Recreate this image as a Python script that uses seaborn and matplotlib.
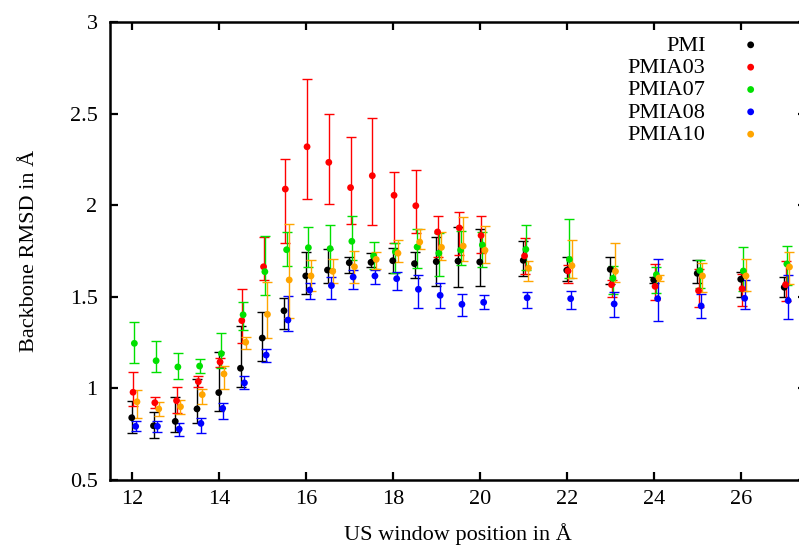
import numpy as np
import seaborn as sns
import matplotlib.pyplot as plt
from matplotlib.ticker import FuncFormatter

# window positions (Angstrom)
windows = [12, 12.5, 13, 13.5, 14, 14.5, 15, 15.5, 16, 16.5, 17, 17.5, 18, 18.5,
           19, 19.5, 20, 21, 22, 23, 24, 25, 26, 27]

# mean backbone RMSD, lower and upper error bound for every system
pmi = [0.840, 0.796, 0.820, 0.888, 0.977, 1.110, 1.275, 1.424, 1.614, 1.646, 1.686, 1.688,
       1.697, 1.681, 1.692, 1.695, 1.690, 1.699, 1.645, 1.650, 1.592, 1.628, 1.596, 1.552]
pmi_lo = [0.758, 0.731, 0.764, 0.809, 0.875, 1.006, 1.151, 1.326, 1.515, 1.577, 1.628, 1.661,
          1.628, 1.603, 1.561, 1.553, 1.557, 1.615, 1.588, 1.568, 1.574, 1.574, 1.501, 1.501]
pmi_hi = [0.931, 0.871, 0.955, 1.051, 1.197, 1.340, 1.419, 1.495, 1.745, 1.763, 1.719, 1.738,
          1.765, 1.743, 1.825, 1.879, 1.872, 1.803, 1.719, 1.719, 1.610, 1.701, 1.635, 1.610]

pmia03 = [0.979, 0.922, 0.933, 1.037, 1.144, 1.370, 1.664, 2.088, 2.319, 2.234, 2.096, 2.161,
          2.054, 1.997, 1.854, 1.876, 1.835, 1.723, 1.641, 1.566, 1.557, 1.533, 1.544, 1.566]
pmia03_lo = [0.904, 0.893, 0.866, 1.009, 1.119, 1.250, 1.592, 1.795, 2.036, 2.004, 1.896, 1.890,
             1.794, 1.848, 1.719, 1.728, 1.739, 1.623, 1.574, 1.501, 1.481, 1.446, 1.450, 1.475]
pmia03_hi = [1.088, 0.953, 1.006, 1.068, 1.166, 1.543, 1.828, 2.254, 2.687, 2.496, 2.374, 2.474,
             2.180, 2.194, 1.939, 1.965, 1.943, 1.819, 1.674, 1.592, 1.679, 1.650, 1.624, 1.696]

pmia07 = [1.246, 1.151, 1.117, 1.122, 1.190, 1.402, 1.637, 1.757, 1.768, 1.763, 1.803, 1.723,
          1.746, 1.772, 1.738, 1.755, 1.783, 1.759, 1.704, 1.601, 1.621, 1.643, 1.641, 1.679]
pmia07_lo = [1.137, 1.088, 1.053, 1.082, 1.110, 1.319, 1.510, 1.668, 1.661, 1.650, 1.701, 1.650,
             1.628, 1.656, 1.614, 1.674, 1.661, 1.646, 1.601, 1.514, 1.519, 1.546, 1.532, 1.566]
pmia07_hi = [1.361, 1.260, 1.195, 1.159, 1.300, 1.470, 1.833, 1.855, 1.879, 1.890, 1.941, 1.801,
             1.792, 1.872, 1.847, 1.859, 1.854, 1.894, 1.927, 1.670, 1.664, 1.701, 1.770, 1.777]

pmia08 = [0.793, 0.793, 0.778, 0.809, 0.891, 1.030, 1.182, 1.373, 1.537, 1.561, 1.608, 1.614,
          1.599, 1.541, 1.508, 1.459, 1.470, 1.495, 1.490, 1.461, 1.490, 1.450, 1.492, 1.479]
pmia08_lo = [0.767, 0.760, 0.740, 0.758, 0.833, 0.997, 1.146, 1.313, 1.486, 1.490, 1.544, 1.570,
             1.537, 1.437, 1.437, 1.394, 1.433, 1.439, 1.433, 1.388, 1.370, 1.383, 1.432, 1.381]
pmia08_hi = [0.822, 0.820, 0.813, 0.840, 0.922, 1.068, 1.213, 1.506, 1.577, 1.610, 1.646, 1.646,
             1.637, 1.619, 1.574, 1.517, 1.511, 1.528, 1.530, 1.525, 1.706, 1.515, 1.592, 1.617]

pmia10 = [0.927, 0.888, 0.900, 0.966, 1.079, 1.252, 1.404, 1.592, 1.614, 1.639, 1.664, 1.704,
          1.738, 1.799, 1.770, 1.777, 1.754, 1.656, 1.670, 1.639, 1.603, 1.614, 1.614, 1.663]
pmia10_lo = [0.838, 0.851, 0.860, 0.915, 0.998, 1.215, 1.273, 1.383, 1.533, 1.577, 1.577, 1.650,
             1.690, 1.759, 1.701, 1.697, 1.683, 1.588, 1.604, 1.579, 1.585, 1.528, 1.532, 1.570]
pmia10_hi = [0.993, 0.924, 0.937, 0.995, 1.124, 1.279, 1.582, 1.897, 1.701, 1.706, 1.752, 1.746,
             1.810, 1.869, 1.852, 1.934, 1.888, 1.697, 1.810, 1.794, 1.620, 1.683, 1.705, 1.745]

labels = ["PMI", "PMIA03", "PMIA07", "PMIA08", "PMIA10"]
colors = ["black", "#ff0000", "#00e000", "#0000ff", "#ffa500"]
shifts = [0.0, 0.03, 0.06, 0.09, 0.12]   # small x offset so bars don't sit on top of each other

series = [(pmi, pmi_lo, pmi_hi), (pmia03, pmia03_lo, pmia03_hi), (pmia07, pmia07_lo, pmia07_hi),
          (pmia08, pmia08_lo, pmia08_hi), (pmia10, pmia10_lo, pmia10_hi)]

sns.set_style("ticks")
plt.rcParams["font.family"] = ["Liberation Serif", "DejaVu Serif"]
plt.rcParams["font.size"] = 16
plt.rcParams["text.color"] = "black"
plt.rcParams["axes.labelcolor"] = "black"
plt.rcParams["axes.edgecolor"] = "black"
plt.rcParams["xtick.color"] = "black"
plt.rcParams["ytick.color"] = "black"

fig = plt.figure(figsize=(7.99, 5.48), dpi=100)
ax = fig.add_axes([110 / 799, 68 / 548, 696 / 799, 458 / 548])

x = np.array(windows)
for (mean, lo, hi), lab, col, dx in zip(series, labels, colors, shifts):
    mean = np.array(mean)
    yerr = [mean - np.array(lo), np.array(hi) - mean]
    ax.errorbar(x + dx, mean, yerr=yerr, fmt="none", ecolor=col, elinewidth=1.0,
                capsize=3.6, capthick=1.0)
    sns.scatterplot(x=x + dx, y=mean, color=col, s=24, edgecolor="none", label=lab, ax=ax,
                    zorder=3)

ax.set_xlim(11.5, 27.5)
ax.set_ylim(0.5, 3)
ax.set_xticks(range(12, 27, 2))
ax.set_yticks([0.5, 1, 1.5, 2, 2.5, 3])
ax.yaxis.set_major_formatter(FuncFormatter(lambda v, p: "%g" % v))
ax.tick_params(direction="in", length=6, width=1.6, top=True, right=True,
               labelsize=16, pad=7)
ax.tick_params(axis="y", pad=9)
for sp in ax.spines.values():
    sp.set_linewidth(1.8)

ax.set_xlabel("US window position in Å", fontsize=16, labelpad=10)
ax.set_ylabel("Backbone RMSD in Å", fontsize=16, labelpad=22)

leg = ax.legend(loc="upper right", bbox_to_anchor=(784 / 799, 1 - 24 / 548),
                bbox_transform=fig.transFigure, frameon=False, markerfirst=False,
                borderpad=0, labelspacing=0.08, handletextpad=1.03, handlelength=2.0,
                fontsize=16)

fig.savefig("out.png", dpi=100)
